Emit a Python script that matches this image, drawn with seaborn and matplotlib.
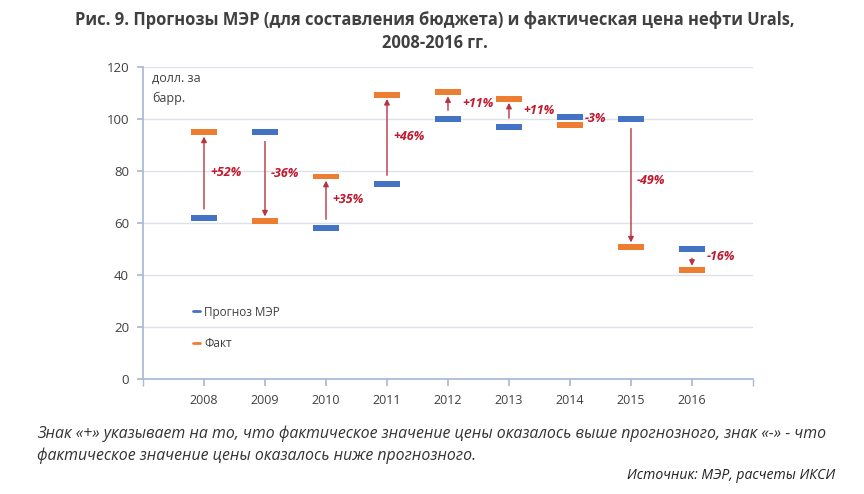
import matplotlib
matplotlib.use("Agg")
import matplotlib.pyplot as plt
from matplotlib.lines import Line2D
import seaborn as sns
import pandas as pd

years = ["2008", "2009", "2010", "2011", "2012", "2013", "2014", "2015", "2016"]
forecast = [62, 95, 58, 75, 100, 97, 101, 100, 50]
fact = [95, 61, 78, 109.5, 110.5, 108, 98, 51, 42]
pct_labels = ["+52%", "-36%", "+35%", "+46%", "+11%", "+11%", "-3%", "-49%", "-16%"]
draw_arrow = [True, True, True, True, True, True, False, True, True]

title = "Рис. 9. Прогнозы МЭР (для составления бюджета) и фактическая цена нефти Urals,\n2008-2016 гг."
note = ("Знак «+» указывает на то, что фактическое значение цены оказалось выше прогнозного, знак «-» - что\n"
        "фактическое значение цены оказалось ниже прогнозного.")
source = "Источник: МЭР, расчеты ИКСИ"

sns.set_theme(style="white")
plt.rcParams["font.family"] = ["Open Sans", "DejaVu Sans"]

BLUE = "#4472C4"
ORANGE = "#ED7D31"
RED = "#C0182C"
ARROW = "#B8343F"

df = pd.DataFrame({"idx": range(len(years)), "forecast": forecast, "fact": fact})

fig = plt.figure(figsize=(8.64, 4.94), dpi=100)
ax = fig.add_axes([0.1655, 0.2328, 0.7060, 0.6306])

rect = [(-1, -0.22), (1, -0.22), (1, 0.22), (-1, 0.22)]
sns.scatterplot(data=df, x="idx", y="forecast", marker=rect, s=370, color=BLUE,
                edgecolor="none", ax=ax, zorder=3, legend=False)
sns.scatterplot(data=df, x="idx", y="fact", marker=rect, s=370, color=ORANGE,
                edgecolor="none", ax=ax, zorder=3, legend=False)

for i, (f, a) in enumerate(zip(forecast, fact)):
    up = a > f
    sgn = 1 if up else -1
    if draw_arrow[i]:
        ax.annotate("", xy=(i, a - sgn * 1.6), xytext=(i, f + sgn * 3.5),
                    arrowprops=dict(arrowstyle="-|>", color=ARROW, lw=1.0,
                                    mutation_scale=8, shrinkA=0, shrinkB=0),
                    zorder=2)
    dx = 0.1 if draw_arrow[i] and abs(a - f) > 12 else 0.24
    ax.text(i + dx, (f + a) / 2 + 1, pct_labels[i], color=RED, fontsize=9,
            fontweight="bold", fontstyle="italic", va="center", ha="left")

ax.set_xlim(-1, 9)
ax.set_ylim(0, 120)
ax.set_yticks(range(0, 121, 20))
ax.set_xticks(range(-1, 10), minor=True)
ax.set_xticks(range(len(years)))
ax.set_xticklabels(years)
ax.grid(axis="y", color="#DCE1EA", lw=1)
ax.set_axisbelow(True)
for s in ["top", "right"]:
    ax.spines[s].set_visible(False)
ax.spines["left"].set_color("#A9B9D6")
ax.spines["bottom"].set_color("#A9B9D6")
ax.tick_params(axis="x", which="both", direction="out", length=5, color="#A9B9D6",
               bottom=True, labelsize=9, labelcolor="#404040", pad=6)
ax.tick_params(axis="y", direction="out", length=4, color="#A9B9D6", left=True,
               labelsize=9.5, labelcolor="#404040", pad=6)
ax.set_xlabel("")
ax.set_ylabel("")

ax.text(0.015, 0.985, "долл. за\nбарр.", transform=ax.transAxes, fontsize=9,
        color="#404040", va="top", ha="left", linespacing=1.6)

handles = [Line2D([0], [0], color=BLUE, lw=2), Line2D([0], [0], color=ORANGE, lw=2)]
ax.legend(handles, ["Прогноз МЭР", "Факт"], loc="upper left",
          bbox_to_anchor=(0.065, 0.27), frameon=False, fontsize=8.5,
          handlelength=0.6, handletextpad=0.3, labelspacing=1.6,
          labelcolor="#404040")

fig.text(0.503, 0.978, title, ha="center", va="top", fontsize=11.9, fontweight="bold",
         color="#404040", linespacing=1.35)
fig.text(0.043, 0.138, note, ha="left", va="top", fontsize=11.4, fontstyle="italic",
         color="#333333", linespacing=1.38)
fig.text(0.967, 0.038, source, ha="right", va="center", fontsize=10.1,
         fontstyle="italic", color="#222222")

fig.savefig("out.png", dpi=100, facecolor="white")
